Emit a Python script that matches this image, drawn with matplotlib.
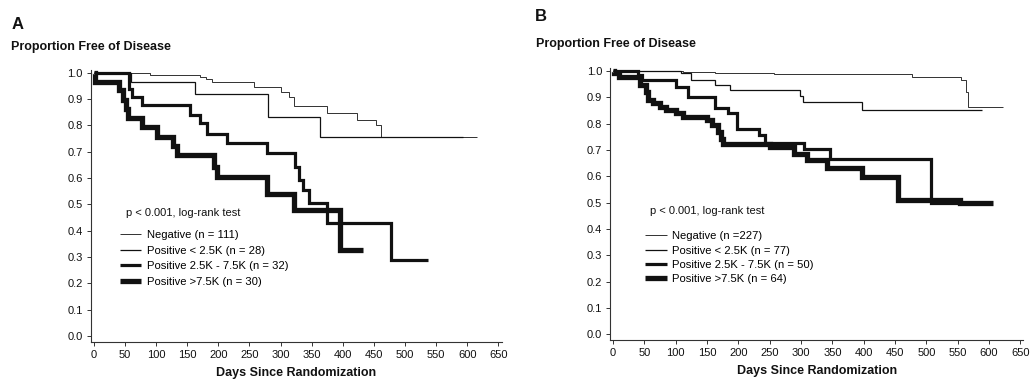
import matplotlib
matplotlib.use("Agg")
import matplotlib.pyplot as plt
from matplotlib.ticker import FormatStrFormatter

plt.rcParams['font.family'] = ['Liberation Sans', 'DejaVu Sans']

# ---- panel A (days, proportion free of disease) ----
negA_t = [0, 91, 171, 180, 190, 257, 300, 313, 321, 374, 422, 454, 462, 615]
negA_s = [1.0, 0.991, 0.982, 0.975, 0.966, 0.947, 0.928, 0.909, 0.873, 0.846, 0.82, 0.80, 0.754, 0.754]
lowA_t = [0, 59, 162, 280, 363, 593]
lowA_s = [1.0, 0.966, 0.92, 0.833, 0.755, 0.755]
midA_t = [0, 56, 62, 78, 155, 171, 182, 214, 278, 323, 330, 336, 345, 374, 478, 537]
midA_s = [1.0, 0.94, 0.909, 0.877, 0.84, 0.81, 0.767, 0.733, 0.694, 0.643, 0.592, 0.554, 0.504, 0.43, 0.289, 0.289]
hiA_t = [0, 2, 40, 47, 51, 55, 77, 101, 127, 133, 193, 198, 278, 321, 395, 433]
hiA_s = [1.0, 0.966, 0.934, 0.897, 0.862, 0.827, 0.792, 0.757, 0.72, 0.687, 0.643, 0.605, 0.54, 0.478, 0.327, 0.327]
labelsA = ['Negative (n = 111)', 'Positive < 2.5K (n = 28)',
           'Positive 2.5K - 7.5K (n = 32)', 'Positive >7.5K (n = 30)']

# ---- panel B ----
negB_t = [0, 112, 162, 256, 477, 556, 564, 567, 623]
negB_s = [1.0, 0.996, 0.992, 0.987, 0.977, 0.965, 0.92, 0.861, 0.861]
lowB_t = [0, 108, 124, 162, 186, 298, 303, 397, 588]
lowB_s = [1.0, 0.99, 0.965, 0.946, 0.927, 0.905, 0.882, 0.851, 0.851]
midB_t = [0, 40, 46, 101, 120, 163, 184, 197, 232, 242, 304, 346, 508, 554]
midB_s = [1.0, 0.984, 0.965, 0.94, 0.90, 0.857, 0.838, 0.78, 0.758, 0.727, 0.705, 0.664, 0.497, 0.497]
hiB_t = [0, 2, 10, 43, 53, 56, 64, 75, 85, 101, 112, 149, 158, 168, 172, 176, 250, 288, 309, 341, 397, 455, 554, 607]
hiB_s = [1.0, 0.99, 0.975, 0.946, 0.92, 0.889, 0.876, 0.863, 0.851, 0.838, 0.823, 0.813, 0.794, 0.769,
         0.74, 0.724, 0.711, 0.686, 0.661, 0.63, 0.598, 0.51, 0.497, 0.497]
labelsB = ['Negative (n =227)', 'Positive < 2.5K (n = 77)',
           'Positive 2.5K - 7.5K (n = 50)', 'Positive >7.5K (n = 64)']

widths = [0.6, 0.9, 2.3, 3.8]
ink = '#111111'

fig = plt.figure(figsize=(10.31, 3.83), dpi=100)
axA = fig.add_axes([0.088, 0.108, 0.3985, 0.709])
axB = fig.add_axes([0.5917, 0.112, 0.401, 0.71])


def draw(ax, series, labels, p_xy, leg_xy, spacing):
    handles = []
    for (t, s), lw in zip(series, widths):
        h, = ax.plot(t, s, drawstyle='steps-post', color=ink, lw=lw,
                     solid_joinstyle='miter', solid_capstyle='butt')
        handles.append(h)
    ax.set_xlim(-5, 655)
    ax.set_ylim(-0.022, 1.01)
    ax.set_xticks(range(0, 651, 50))
    ax.set_yticks([i / 10 for i in range(11)])
    ax.yaxis.set_major_formatter(FormatStrFormatter('%.1f'))
    for side in ['top', 'right']:
        ax.spines[side].set_visible(False)
    for side in ['left', 'bottom']:
        ax.spines[side].set_linewidth(0.8)
        ax.spines[side].set_color('#333333')
    ax.tick_params(axis='both', direction='out', length=3, width=0.7,
                   labelsize=8, colors='#333333', labelcolor=ink)
    ax.tick_params(axis='y', pad=2.6)
    ax.tick_params(axis='x', pad=3.0)
    ax.set_xlabel('Days Since Randomization', fontsize=9, fontweight='bold',
                  color=ink, labelpad=5)
    ax.text(p_xy[0], p_xy[1], 'p < 0.001, log-rank test', transform=ax.transAxes,
            fontsize=8, color=ink, va='center', ha='left')
    ax.legend(handles, labels, loc='upper left', bbox_to_anchor=leg_xy,
              frameon=False, fontsize=8.1, handlelength=1.9, handletextpad=0.5,
              labelspacing=spacing, borderpad=0, borderaxespad=0)


draw(axA, [(negA_t, negA_s), (lowA_t, lowA_s), (midA_t, midA_s), (hiA_t, hiA_s)],
     labelsA, (0.085, 0.475), (0.071, 0.411), 0.5)
draw(axB, [(negB_t, negB_s), (lowB_t, lowB_s), (midB_t, midB_s), (hiB_t, hiB_s)],
     labelsB, (0.097, 0.475), (0.085, 0.40), 0.38)

fig.text(0.0116, 0.935, 'A', fontsize=12, fontweight='bold', color=ink, va='center')
fig.text(0.0107, 0.877, 'Proportion Free of Disease', fontsize=9, fontweight='bold',
         color=ink, va='center')
fig.text(0.519, 0.957, 'B', fontsize=12, fontweight='bold', color=ink, va='center')
fig.text(0.520, 0.884, 'Proportion Free of Disease', fontsize=9, fontweight='bold',
         color=ink, va='center')

fig.savefig('out.png', dpi=100)
